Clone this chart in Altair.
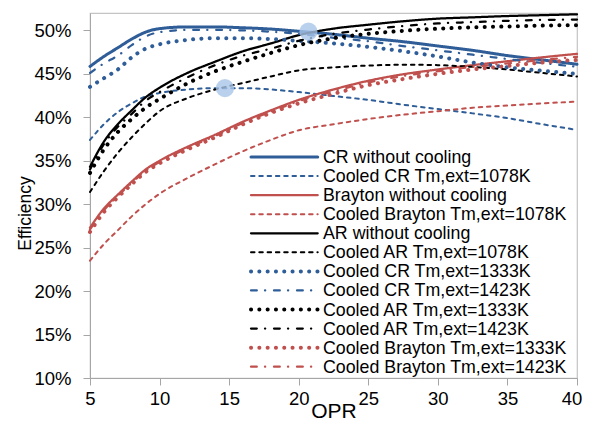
import altair as alt
import pandas as pd

opr = [5, 6, 7, 8, 9, 10, 12, 14, 16, 18, 20, 22.5, 25, 27.5, 30, 32.5, 35, 37.5, 40]

series_names = [
    "CR without cooling",
    "Cooled CR Tm,ext=1078K",
    "Brayton without cooling",
    "Cooled Brayton Tm,ext=1078K",
    "AR without cooling",
    "Cooled AR Tm,ext=1078K",
    "Cooled CR Tm,ext=1333K",
    "Cooled CR Tm,ext=1423K",
    "Cooled AR Tm,ext=1333K",
    "Cooled AR Tm,ext=1423K",
    "Cooled Brayton Tm,ext=1333K",
    "Cooled Brayton Tm,ext=1423K",
]

cr_none = [45.85, 47.0, 48.0, 49.0, 49.8, 50.2, 50.4, 50.4, 50.3, 50.15, 49.9, 49.55, 49.1, 48.7, 48.2, 47.7, 47.1, 46.6, 46.1]
cr_1078 = [37.4, 39.2, 40.6, 41.6, 42.4, 42.8, 43.2, 43.35, 43.35, 43.2, 42.9, 42.45, 42.0, 41.45, 40.95, 40.45, 39.9, 39.2, 38.55]
br_none = [27.3, 29.5, 31.1, 32.6, 34.0, 35.0, 36.6, 38.0, 39.5, 40.8, 42.0, 43.2, 44.2, 44.95, 45.5, 46.0, 46.45, 46.9, 47.3]
br_1078 = [23.5, 25.4, 27.0, 28.6, 30.0, 31.2, 33.0, 34.6, 36.1, 37.4, 38.5, 39.2, 39.8, 40.3, 40.7, 41.1, 41.35, 41.6, 41.8]
ar_none = [34.3, 37.2, 39.2, 40.8, 42.3, 43.4, 45.1, 46.4, 47.6, 48.5, 49.45, 50.2, 50.65, 51.05, 51.35, 51.5, 51.65, 51.75, 51.85]
ar_1078 = [31.4, 33.8, 35.9, 37.7, 39.3, 40.7, 42.2, 43.2, 43.95, 44.7, 45.4, 45.75, 45.95, 46.05, 46.0, 45.8, 45.5, 45.1, 44.7]
cr_1333 = [43.5, 44.5, 45.5, 46.9, 47.9, 48.4, 48.9, 49.1, 49.1, 49.0, 48.8, 48.5, 48.1, 47.6, 47.0, 46.3, 45.75, 45.35, 45.0]
cr_1423 = [45.1, 46.2, 47.1, 48.3, 49.3, 49.8, 50.05, 50.05, 50.0, 49.85, 49.6, 49.15, 48.75, 48.2, 47.7, 47.2, 46.7, 46.25, 45.8]
ar_1333 = [33.6, 36.3, 38.3, 39.8, 41.1, 42.1, 43.9, 45.3, 46.4, 47.4, 48.3, 49.1, 49.6, 49.95, 50.2, 50.35, 50.45, 50.55, 50.6]
ar_1423 = [34.0, 36.9, 38.9, 40.4, 41.9, 42.9, 44.6, 46.0, 47.1, 47.9, 48.8, 49.6, 50.1, 50.5, 50.8, 50.95, 51.1, 51.2, 51.25]
br_1333 = [26.8, 29.1, 30.8, 32.3, 33.7, 34.7, 36.3, 37.7, 39.2, 40.5, 41.6, 42.7, 43.7, 44.4, 45.0, 45.5, 45.9, 46.3, 46.6]
br_1423 = [27.1, 29.3, 30.95, 32.45, 33.85, 34.85, 36.45, 37.85, 39.35, 40.65, 41.85, 43.0, 44.0, 44.75, 45.3, 45.8, 46.2, 46.6, 46.95]

series_values = [cr_none, cr_1078, br_none, br_1078, ar_none, ar_1078,
                 cr_1333, cr_1423, ar_1333, ar_1423, br_1333, br_1423]

circle_x = [14.7, 20.7]
circle_y = [43.35, 49.85]

BLUE = "#2f5d98"
RED = "#c0504d"
BLACK = "#000000"

colors = [BLUE, BLUE, RED, RED, BLACK, BLACK, BLUE, BLUE, BLACK, BLACK, RED, RED]
SOLID = [1, 0]
DASH = [3.5, 4.8]
DOT = [0.1, 8.2]
DASHDOT = [5.8, 8.2, 0.2, 8.8]
dashes = [SOLID, DASH, SOLID, DASH, SOLID, DASH, DOT, DASHDOT, DOT, DASHDOT, DOT, DASHDOT]
widths = [3, 2, 2.25, 2, 2.25, 2, 4, 2.25, 4, 2.25, 4, 2.25]

rows = []
for name, vals in zip(series_names, series_values):
    for x, v in zip(opr, vals):
        rows.append({"OPR": x, "eff": v, "series": name})
df = pd.DataFrame(rows)
circ = pd.DataFrame({"OPR": circle_x, "eff": circle_y})
leg = pd.DataFrame({"series": series_names})

FONT = "Liberation Sans"
AXC = "#a6a6a6"

color_enc = alt.Color("series:N", scale=alt.Scale(domain=series_names, range=colors), legend=None)
dash_enc = alt.StrokeDash("series:N", scale=alt.Scale(domain=series_names, range=dashes), legend=None)
width_enc = alt.StrokeWidth("series:N", scale=alt.Scale(domain=series_names, range=widths, type="ordinal"), legend=None)

x_enc = alt.X("OPR:Q", scale=alt.Scale(domain=[5, 40], nice=False),
              axis=alt.Axis(values=[5, 10, 15, 20, 25, 30, 35, 40], title="OPR",
                            labelFont=FONT, labelFontSize=18.5, labelColor="#000000",
                            tickSize=7, tickColor=AXC, domainColor=AXC,
                            labelPadding=4, grid=False, labelFlush=False,
                            labelOffset={"condition": {"test": "datum.value == 40", "value": -5.5}, "value": 0},
                            titleFont=FONT, titleFontSize=21, titleFontWeight="normal",
                            titleColor="#000000", titleX=243.5, titleY=39,
                            titleBaseline="alphabetic"))
y_scale = alt.Scale(domain=[10, 52], nice=False)
y_enc = alt.Y("eff:Q", scale=y_scale,
              axis=alt.Axis(values=[10, 15, 20, 25, 30, 35, 40, 45, 50],
                            labelExpr="datum.value + '%'", title="Efficiency",
                            labelFont=FONT, labelFontSize=18.5, labelColor="#000000",
                            tickSize=7, tickColor=AXC, domainColor=AXC,
                            labelPadding=12, grid=False, labelFlush=False,
                            titleFont=FONT, titleFontSize=17.5, titleFontWeight="normal",
                            titleColor="#000000", titleX=-60, titleY=200,
                            titleBaseline="alphabetic", titleAlign="center"))

lines = alt.Chart(df).mark_line(interpolate="monotone", strokeCap="round").encode(
    x=x_enc, y=y_enc, color=color_enc, strokeDash=dash_enc, strokeWidth=width_enc,
)

circles = alt.Chart(circ).mark_circle(size=330, color="#a9c5ea", opacity=0.8).encode(
    x=alt.X("OPR:Q"), y=alt.Y("eff:Q", scale=y_scale, axis=None)
)

leg_y = alt.Y("series:N", scale=alt.Scale(type="point", domain=series_names, range=[144, 353.7], padding=0), axis=None)

leg_lines = alt.Chart(leg).mark_rule(strokeCap="round").encode(
    x=alt.value(161), x2=alt.value(227.7), y=leg_y,
    color=color_enc, strokeDash=dash_enc, strokeWidth=width_enc,
)
leg_text = alt.Chart(leg).mark_text(align="left", baseline="middle", font=FONT,
                                    fontSize=17.8, color="#000000", dy=1).encode(
    x=alt.value(233), y=leg_y, text="series:N"
)

chart = alt.layer(lines, circles, alt.layer(leg_lines, leg_text)).resolve_scale(
    y="independent"
).properties(
    width=487, height=365,
    autosize=alt.AutoSizeParams(type="none"),
    padding={"left": 82, "top": 5, "right": 6, "bottom": 44},
).configure_view(stroke="#c4c4c4", strokeWidth=1.2)

chart.save("out.html", embed_options={"renderer": "svg", "actions": False})
